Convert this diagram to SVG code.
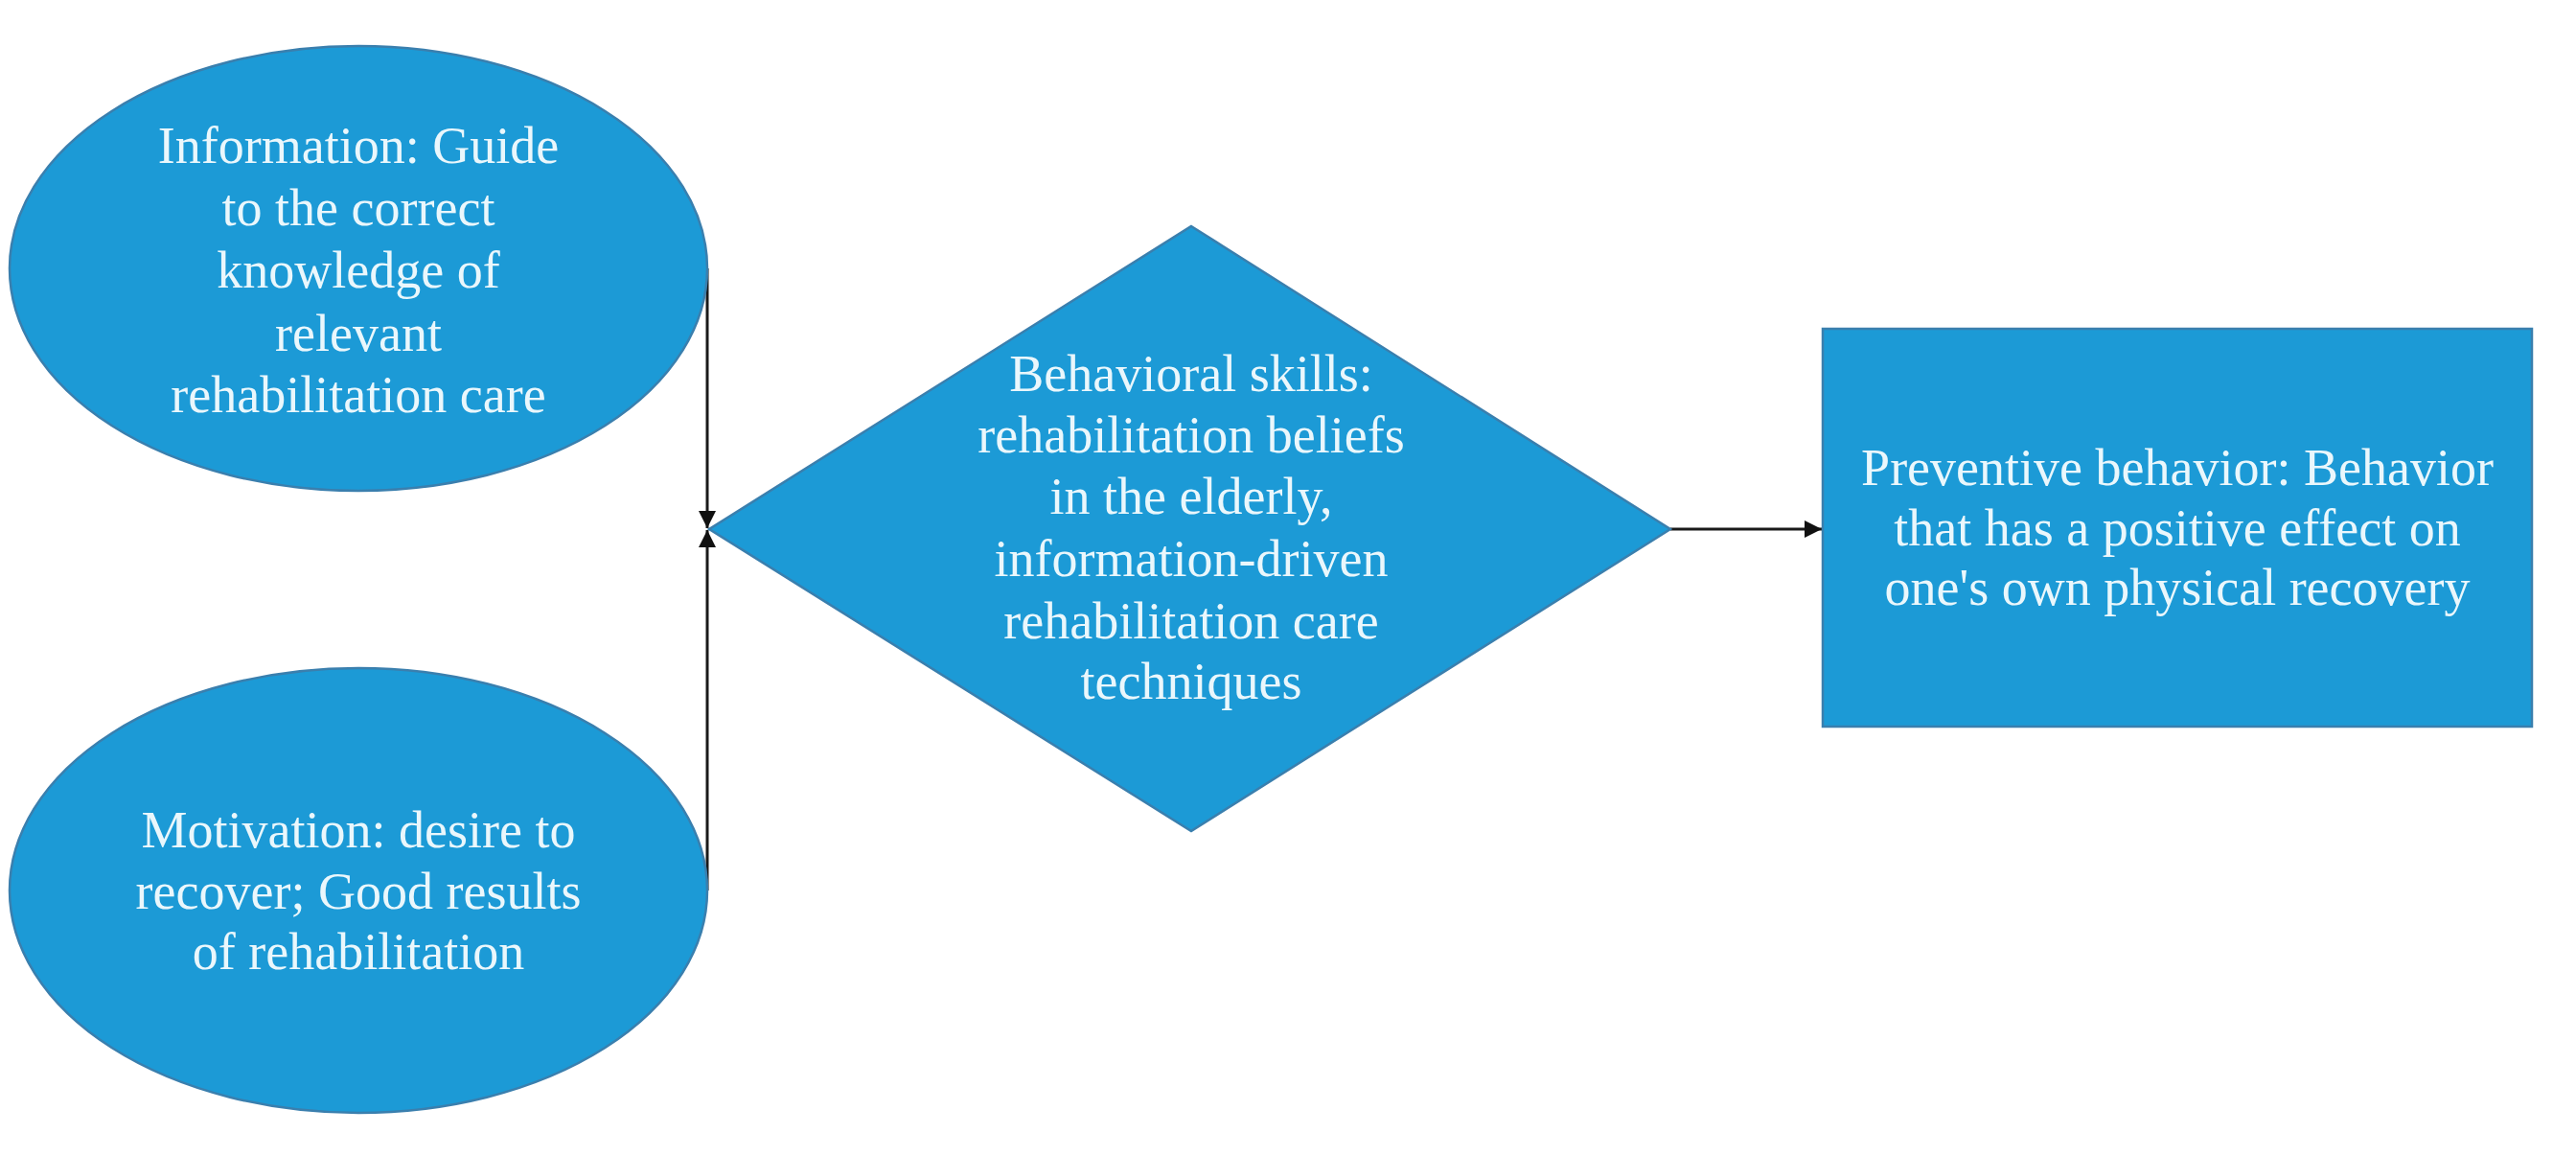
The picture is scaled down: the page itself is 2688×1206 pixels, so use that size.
<svg xmlns="http://www.w3.org/2000/svg" width="2688" height="1206" viewBox="0 0 2688 1206">
<style>
.shape{fill:#1c9ad6;stroke:#3a7fae;stroke-width:2.5}
.lbl{font-family:"Liberation Serif","Times New Roman",serif;font-size:54px;fill:#eaf7fc;text-anchor:middle}
.conn{stroke:#1a1a1a;stroke-width:3;fill:none}
</style>
<defs>
<marker id="arr" viewBox="0 0 10 10" refX="10" refY="5" markerWidth="6" markerHeight="6" markerUnits="strokeWidth" orient="auto">
<path d="M0,0 L10,5 L0,10 Z" fill="#111"/>
</marker>
</defs>
<rect width="2688" height="1206" fill="#ffffff"/>
<g id="connectors">
<line class="conn" x1="738" y1="280" x2="738" y2="551" marker-end="url(#arr)"/>
<line class="conn" x1="738" y1="929" x2="738" y2="553" marker-end="url(#arr)"/>
<line class="conn" x1="1743" y1="552" x2="1901" y2="552" marker-end="url(#arr)"/>
</g>
<g id="information">
<ellipse class="shape" cx="374" cy="280" rx="364" ry="232"/>
<text class="lbl"><tspan x="374" y="170">Information: Guide</tspan><tspan x="374" y="235">to the correct</tspan><tspan x="374" y="300">knowledge of</tspan><tspan x="374" y="366">relevant</tspan><tspan x="374" y="430">rehabilitation care</tspan></text>
</g>
<g id="motivation">
<ellipse class="shape" cx="374" cy="929" rx="364" ry="232"/>
<text class="lbl"><tspan x="374" y="884">Motivation: desire to</tspan><tspan x="374" y="948">recover; Good results</tspan><tspan x="374" y="1011">of rehabilitation</tspan></text>
</g>
<g id="behavioral-skills">
<polygon class="shape" points="1243,236 1743,552 1243,867 740,552"/>
<text class="lbl"><tspan x="1243" y="408">Behavioral skills:</tspan><tspan x="1243" y="472">rehabilitation beliefs</tspan><tspan x="1243" y="536">in the elderly,</tspan><tspan x="1243" y="601">information-driven</tspan><tspan x="1243" y="666">rehabilitation care</tspan><tspan x="1243" y="729">techniques</tspan></text>
</g>
<g id="preventive-behavior">
<rect class="shape" x="1902" y="343" width="740" height="415"/>
<text class="lbl"><tspan x="2272" y="506">Preventive behavior: Behavior</tspan><tspan x="2272" y="569">that has a positive effect on</tspan><tspan x="2272" y="631">one's own physical recovery</tspan></text>
</g>
</svg>
